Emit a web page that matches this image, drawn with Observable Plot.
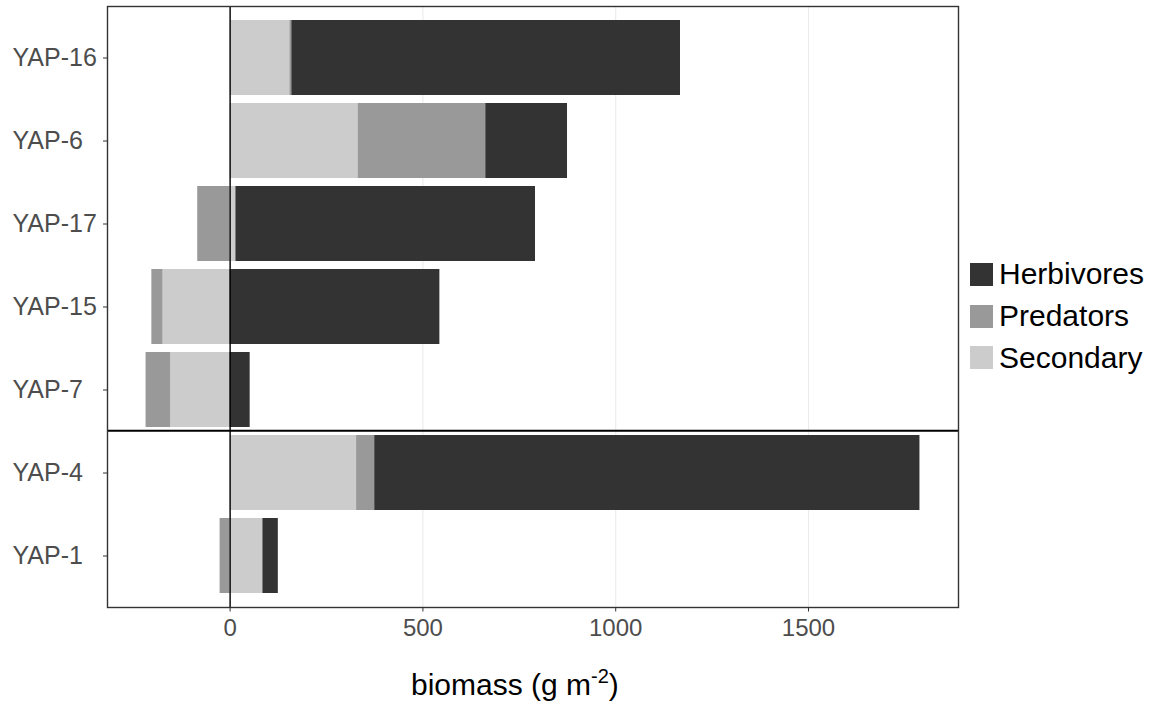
<!DOCTYPE html>
<html><head><meta charset="utf-8">
<script src="https://cdn.jsdelivr.net/npm/d3@7"></script>
<script src="https://cdn.jsdelivr.net/npm/@observablehq/plot@0.6"></script>
<style>
body{margin:0;background:#fff;}
#wrap{position:relative;width:1158px;height:704px;font-family:"Liberation Sans",Arial,sans-serif;}
#legend{position:absolute;left:970px;top:253.5px;}
.item{display:flex;align-items:center;height:41.7px;font-size:30px;color:#000;}
.sw{width:23px;height:23px;margin-right:6px;flex:none;}
#xlabel{position:absolute;left:411px;top:670px;font-size:30px;line-height:30px;color:#000;white-space:nowrap;}
#xlabel sup{font-size:20px;line-height:0;vertical-align:12px;}
</style>
</head><body>
<div id="wrap"><div id="chart"></div><div id="legend"></div><div id="xlabel"></div></div>
<script>
const sites = ["YAP-16","YAP-6","YAP-17","YAP-15","YAP-7","YAP-4","YAP-1"];
const groups = ["Herbivores","Predators","Secondary"];
const colors = ["#333333","#999999","#cccccc"];
const secondary  = [155, 332, 15, -174, -154, 328, 85];
const predators  = [5, 331, -84, -29, -64, 47, -26];
const herbivores = [1008, 212, 777, 544, 52, 1414, 40];
const xTicks = [0, 500, 1000, 1500];
const groupBreakBefore = "YAP-4";
const xLabelText = "biomass (g m";
const xLabelSup = "-2";

const data = [];
sites.forEach((s, i) => {
  data.push({site: s, group: "Secondary", value: secondary[i]});
  data.push({site: s, group: "Predators", value: predators[i]});
  data.push({site: s, group: "Herbivores", value: herbivores[i]});
});

const innerPad = 0.1;
function separator(index, scales, values, dims) {
  const y = scales.y;
  const idx = sites.indexOf(groupBreakBefore);
  const yb = y(sites[idx]);
  const ya = y(sites[idx - 1]);
  const step = yb - ya;
  const bw = step * (1 - innerPad);
  const yy = (ya + bw + yb) / 2;
  const g = d3.create("svg:g");
  g.append("line")
    .attr("x1", dims.marginLeft).attr("x2", dims.width - dims.marginRight)
    .attr("y1", yy).attr("y2", yy)
    .attr("stroke", "#000").attr("stroke-width", 2);
  return g.node();
}

const chart = Plot.plot({
  width: 1158, height: 704,
  marginLeft: 107, marginRight: 200, marginTop: 6, marginBottom: 97,
  style: {fontFamily: '"Liberation Sans", Arial, sans-serif', background: "#fff"},
  x: {domain: [-318, 1889], ticks: xTicks, label: null},
  y: {domain: sites, paddingInner: innerPad, paddingOuter: 0.15, label: null},
  color: {domain: groups, range: colors},
  marks: [
    Plot.ruleX(xTicks, {stroke: "#ebebeb", strokeWidth: 1.1}),
    Plot.barX(data, {x: "value", y: "site", fill: "group"}),
    Plot.ruleX([0], {stroke: "#000", strokeWidth: 1.4}),
    separator,
    Plot.frame({stroke: "#333", strokeWidth: 1.4}),
    Plot.axisX({ticks: xTicks, tickFormat: d => String(d), tickSize: 4.5, tickPadding: 7, fontSize: 24, fill: "#4d4d4d", stroke: "#333", label: null}),
    Plot.axisY({tickSize: 4, tickFormat: () => "", stroke: "#333", label: null}),
    Plot.axisY({tickSize: 0, tickPadding: 0, textAnchor: "start", dx: -95, fontSize: 25, fill: "#4d4d4d", label: null})
  ]
});
document.getElementById("chart").appendChild(chart);

const legend = document.getElementById("legend");
groups.forEach((g, i) => {
  const row = document.createElement("div");
  row.className = "item";
  const sw = document.createElement("span");
  sw.className = "sw";
  sw.style.background = colors[i];
  const t = document.createElement("span");
  t.textContent = g;
  row.appendChild(sw); row.appendChild(t);
  legend.appendChild(row);
});
const xl = document.getElementById("xlabel");
xl.appendChild(document.createTextNode(xLabelText));
const sup = document.createElement("sup");
sup.textContent = xLabelSup;
xl.appendChild(sup);
xl.appendChild(document.createTextNode(")"));
</script>
</body></html>
